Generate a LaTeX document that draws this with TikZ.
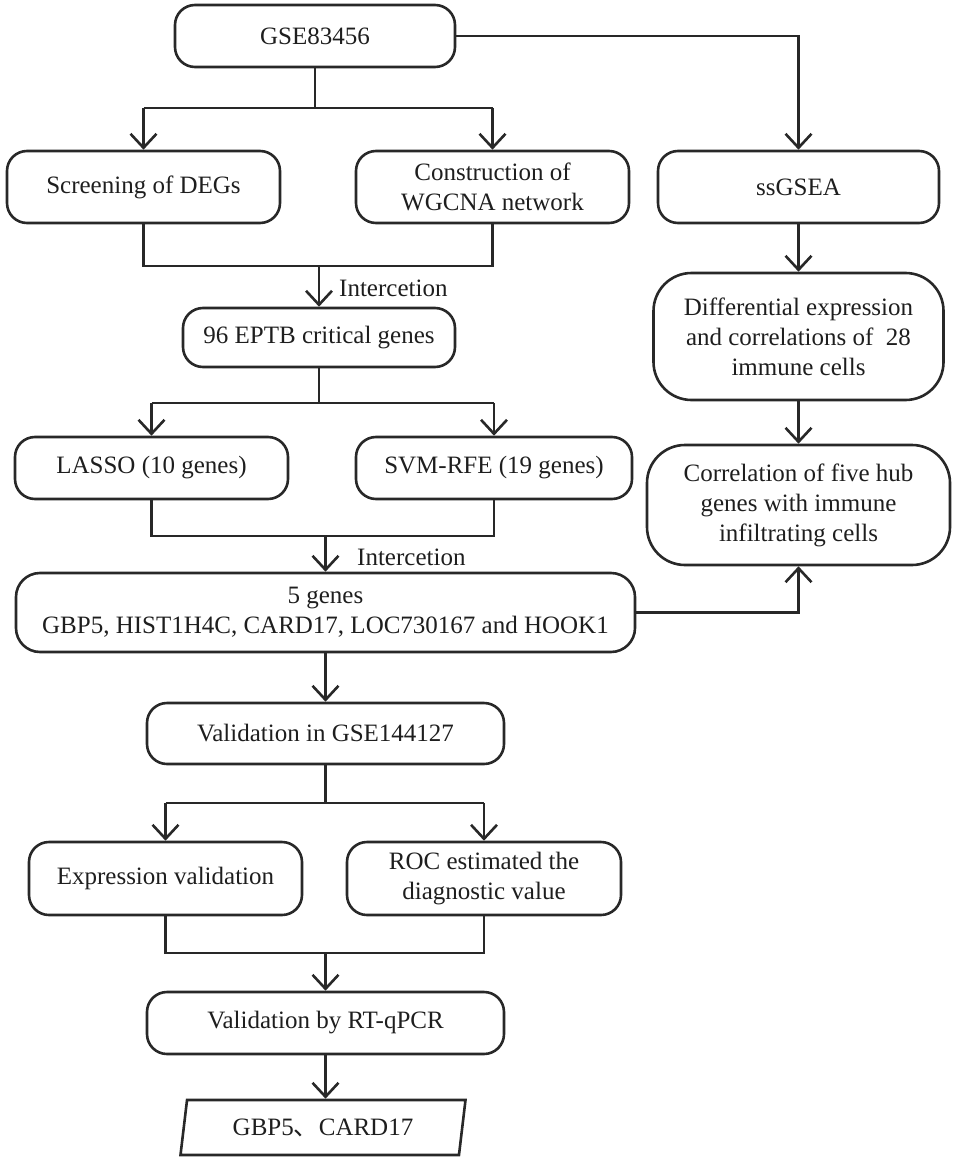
\documentclass[tikz,border=0pt]{standalone}
\usepackage{fontspec}
\setmainfont{Liberation Serif}
\newfontfamily\cjk{Noto Sans CJK SC}
\usetikzlibrary{arrows.meta,shapes.geometric,calc}
\definecolor{lc}{RGB}{40,40,40}
\definecolor{tc}{RGB}{30,30,30}
\tikzset{
  box/.style={draw=lc, line width=2.6pt, rounded corners=20pt, align=center,
    inner sep=0pt, text=tc, font=\fontsize{25}{30}\selectfont},
  tallbox/.style={box, rounded corners=38pt},
  ln/.style={draw=lc, line width=2.6pt},
  arr/.style={ln, -{Straight Barb[length=14pt,width=26pt,line width=2.6pt]}},
  lbl/.style={inner sep=0pt, anchor=west, text=tc, font=\fontsize{25}{30}\selectfont},
  outbox/.style={draw=lc, line width=2.6pt, trapezium, trapezium left angle=70,
    trapezium right angle=110, trapezium stretches body=true, inner sep=0pt,
    minimum width=285pt, minimum height=55pt, text=tc, font=\fontsize{25}{30}\selectfont}
}
\begin{document}
\begin{tikzpicture}[x=1pt,y=-1pt]
\useasboundingbox (0,0) rectangle (953,1161);
% nodes
\node[box, minimum width=280pt, minimum height=62pt] (gse) at (315,36) {GSE83456};
\node[box, minimum width=273pt, minimum height=72pt] (deg) at (143.5,187) {Screening of DEGs};
\node[box, minimum width=273pt, minimum height=72pt] (wgcna) at (492.5,187) {Construction of\\WGCNA network};
\node[box, minimum width=281pt, minimum height=72pt] (ssgsea) at (798.5,187) {ssGSEA};
\node[box, minimum width=272pt, minimum height=59pt] (ept) at (319,337.5) {96 EPTB critical genes};
\node[tallbox, minimum width=290pt, minimum height=127pt] (diff) at (798.5,336.5) {Differential expression\\and correlations of\ \ 28\\immune cells};
\node[box, minimum width=273pt, minimum height=62pt] (lasso) at (151.5,468) {LASSO (10 genes)};
\node[box, minimum width=276pt, minimum height=62pt] (svm) at (494,468) {SVM-RFE (19 genes)};
\node[tallbox, minimum width=303pt, minimum height=120pt] (corr) at (798.5,505) {Correlation of five hub\\genes with immune\\infiltrating cells};
\node[box, rounded corners=24pt, minimum width=619pt, minimum height=79pt] (five) at (325.5,612.5) {5 genes\\GBP5, HIST1H4C, CARD17, LOC730167 and HOOK1};
\node[box, minimum width=357pt, minimum height=61pt] (val) at (325.5,733.5) {Validation in GSE144127};
\node[box, minimum width=273pt, minimum height=73pt] (expr) at (165.5,878.5) {Expression validation};
\node[box, minimum width=274pt, minimum height=73pt] (roc) at (484,878.5) {ROC estimated the\\diagnostic value};
\node[box, minimum width=357pt, minimum height=62pt] (rt) at (325.5,1023) {Validation by RT-qPCR};
\node[outbox] (out) at (323,1127.5) {GBP5{\cjk 、}CARD17};
% labels
\node[lbl] (int1) at (339,288) {Intercetion};
\node[lbl] (int2) at (357,557) {Intercetion};
% junction coordinates
\coordinate (j1) at (315,108);
\coordinate (j2) at (319,266);
\coordinate (j3) at (319,403);
\coordinate (j4) at (325.5,536);
\coordinate (j5) at (325.5,803);
\coordinate (j6) at (325.5,953);
% connectors
\draw[arr] (gse.east) -| (ssgsea.north);
\draw[ln] (gse.south) -- (j1);
\draw[ln] (deg.north |- j1) -- (wgcna.north |- j1);
\draw[arr] (deg.north |- j1) -- (deg.north);
\draw[arr] (wgcna.north |- j1) -- (wgcna.north);
\draw[ln] (deg.south) -- (deg.south |- j2) -- (wgcna.south |- j2) -- (wgcna.south);
\draw[arr] (ept.north |- j2) -- (ept.north);
\draw[ln] (ept.south) -- (j3);
\draw[ln] (lasso.north |- j3) -- (svm.north |- j3);
\draw[arr] (lasso.north |- j3) -- (lasso.north);
\draw[arr] (svm.north |- j3) -- (svm.north);
\draw[ln] (lasso.south) -- (lasso.south |- j4) -- (svm.south |- j4) -- (svm.south);
\draw[arr] (five.north |- j4) -- (five.north);
\draw[arr] (ssgsea.south) -- (diff.north);
\draw[arr] (diff.south) -- (corr.north);
\draw[arr] (five.east) -| (corr.south);
\draw[arr] (five.south) -- (val.north);
\draw[ln] (val.south) -- (j5);
\draw[ln] (expr.north |- j5) -- (roc.north |- j5);
\draw[arr] (expr.north |- j5) -- (expr.north);
\draw[arr] (roc.north |- j5) -- (roc.north);
\draw[ln] (expr.south) -- (expr.south |- j6) -- (roc.south |- j6) -- (roc.south);
\draw[arr] (rt.north |- j6) -- (rt.north);
\draw[arr] (rt.south) -- (rt.south |- out.north);
\end{tikzpicture}
\end{document}
